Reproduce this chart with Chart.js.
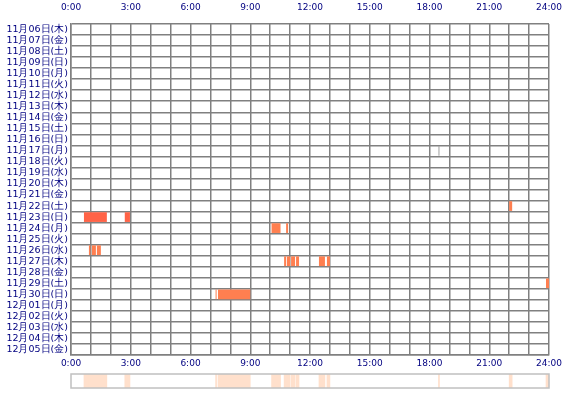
<!doctype html>
<html>
<head>
<meta charset="utf-8">
<script src="https://cdn.jsdelivr.net/npm/chart.js"></script>
<style>
  body { margin: 0; background: #fff; }
  #main { position: absolute; left: 0; top: 0; width: 570px; height: 368px; }
  #strip { position: absolute; left: 0; top: 372px; width: 570px; height: 20px; }
</style>
</head>
<body>
<div id="main"><canvas id="chart"></canvas></div>
<div id="strip"><canvas id="chart2"></canvas></div>
<script>
const days = ['11月06日(木)','11月07日(金)','11月08日(土)','11月09日(日)','11月10日(月)','11月11日(火)',
  '11月12日(水)','11月13日(木)','11月14日(金)','11月15日(土)','11月16日(日)','11月17日(月)','11月18日(火)',
  '11月19日(水)','11月20日(木)','11月21日(金)','11月22日(土)','11月23日(日)','11月24日(月)','11月25日(火)',
  '11月26日(水)','11月27日(木)','11月28日(金)','11月29日(土)','11月30日(日)','12月01日(月)','12月02日(火)',
  '12月03日(水)','12月04日(木)','12月05日(金)']

// one entry per activity block: day, start hour, end hour
const eventDay = ['11月17日(月)','11月22日(土)',
  '11月23日(日)','11月23日(日)',
  '11月24日(月)','11月24日(月)',
  '11月26日(水)','11月26日(水)','11月26日(水)',
  '11月27日(木)','11月27日(木)','11月27日(木)','11月27日(木)','11月27日(木)','11月27日(木)',
  '11月29日(土)','11月30日(日)','11月30日(日)']
const eventStart = [18.45, 22.0, 0.65, 2.7, 10.07, 10.8, 0.9, 1.05, 1.3, 10.7, 10.84, 11.05, 11.3, 12.45, 12.85, 23.85, 7.26, 7.38]
const eventEnd = [18.5, 22.15, 1.8, 2.96, 10.52, 10.9, 0.97, 1.25, 1.5, 10.8, 11.0, 11.25, 11.45, 12.75, 13.0, 24.0, 7.31, 9.0]

const hourTicks = ['0:00','3:00','6:00','9:00','12:00','15:00','18:00','21:00','24:00']

const navy = '#000080'
const tickFont = { family: 'DejaVu Sans', size: 9 }
const bars = eventDay.map((d, i) => ({ y: d, x: [eventStart[i], eventEnd[i]] }))
const barColors = eventDay.map((d, i) => d === '11月17日(月)' ? '#a0a0a0' : d === '11月23日(日)' ? '#ff6347' : '#ff7f50')

const hourLabel = (v) => v % 3 === 0 ? hourTicks[v / 3] : ''

new Chart(document.getElementById('chart'), {
  type: 'bar',
  data: {
    labels: days,
    datasets: [{ data: bars, backgroundColor: barColors, barPercentage: 0.88, categoryPercentage: 1, grouped: false }]
  },
  options: {
    indexAxis: 'y',
    animation: false,
    maintainAspectRatio: false,
    layout: { padding: { right: 21 } },
    plugins: { legend: { display: false }, tooltip: { enabled: false } },
    scales: {
      x: {
        min: 0, max: 24, position: 'bottom',
        grid: { color: '#808080', lineWidth: 1.5, drawTicks: false },
        border: { color: '#808080', width: 1.5 },
        ticks: { stepSize: 1, autoSkip: false, maxRotation: 0, color: navy, font: tickFont, padding: 3, callback: hourLabel },
        afterFit: (s) => { s.height = 13 }
      },
      x2: {
        min: 0, max: 24, position: 'top', axis: 'x',
        grid: { display: false },
        border: { display: false },
        ticks: { stepSize: 1, autoSkip: false, maxRotation: 0, color: navy, font: tickFont, padding: 3, callback: hourLabel },
        afterFit: (s) => { s.height = 24 }
      },
      y: {
        grid: { color: '#808080', lineWidth: 1.5, drawTicks: false, offset: true },
        border: { color: '#808080', width: 1.5 },
        ticks: { color: navy, font: { family: 'DejaVu Sans', size: 9.5 }, padding: 3, autoSkip: false },
        afterFit: (s) => { s.width = 71 }
      }
    }
  }
})

const boxPlugin = {
  id: 'box',
  afterDraw(chart) {
    const a = chart.chartArea, c = chart.ctx
    c.save()
    c.strokeStyle = '#c0c0c0'
    c.lineWidth = 1.5
    c.strokeRect(a.left, a.top, a.right - a.left, a.bottom - a.top)
    c.restore()
  }
}

new Chart(document.getElementById('chart2'), {
  type: 'bar',
  data: {
    labels: ['all'],
    datasets: [{
      data: eventStart.map((s, i) => ({ y: 'all', x: [s, eventEnd[i]] })),
      backgroundColor: '#ffe0cc', barPercentage: 1, categoryPercentage: 1, grouped: false
    }]
  },
  options: {
    indexAxis: 'y',
    animation: false,
    maintainAspectRatio: false,
    layout: { padding: { right: 21, top: 2, bottom: 4 } },
    plugins: { legend: { display: false }, tooltip: { enabled: false } },
    scales: {
      x: { min: 0, max: 24, display: false },
      y: { display: true, grid: { display: false }, border: { display: false }, ticks: { display: false },
        afterFit: (s) => { s.width = 71 } }
    }
  },
  plugins: [boxPlugin]
})
</script>
</body>
</html>
